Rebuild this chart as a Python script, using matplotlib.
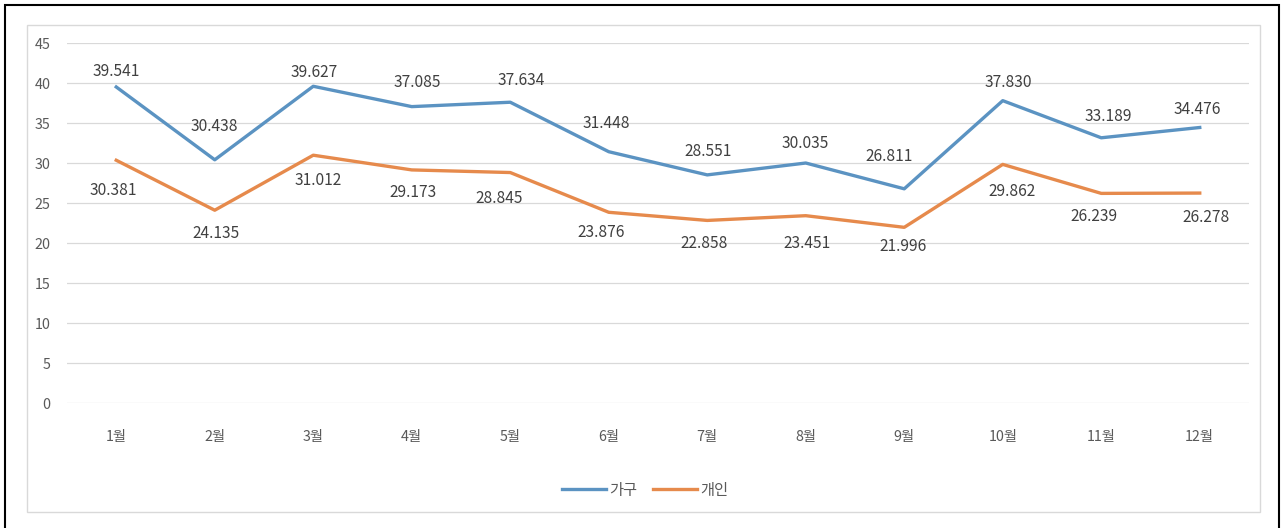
import matplotlib
matplotlib.use("Agg")
import matplotlib.pyplot as plt
from matplotlib.patches import Rectangle

plt.rcParams['font.family'] = ['Noto Sans CJK KR', 'DejaVu Sans']

months = ['1월', '2월', '3월', '4월', '5월', '6월', '7월', '8월', '9월', '10월', '11월', '12월']
household = [39.541, 30.438, 39.627, 37.085, 37.634, 31.448, 28.551, 30.035, 26.811, 37.830, 33.189, 34.476]
individual = [30.381, 24.135, 31.012, 29.173, 28.845, 23.876, 22.858, 23.451, 21.996, 29.862, 26.239, 26.278]
series_names = ['가구', '개인']
yticks = [0, 5, 10, 15, 20, 25, 30, 35, 40, 45]

# label placement offsets in pixels (style only)
hh_offsets = [(0, 15), (0, 33), (1, 14), (6, 24), (11, 22), (-2, 28),
              (1, 23), (0, 20), (-15, 32), (6, 18), (7, 21), (-2, 18)]
ind_offsets = [(-3, -30), (1, -23), (5, -25), (1, -23), (-11, -26), (-8, -20),
               (-3, -23), (1, -28), (-1, -19), (9, -27), (-7, -23), (6, -24)]

W, H = 1283, 528
fig = plt.figure(figsize=(W / 100, H / 100), dpi=100)

# outer black frame and inner gray chart frame
fig.patches.append(Rectangle((5 / W, -0.05), (1279 - 5) / W, (H - 5) / H + 0.05,
                             transform=fig.transFigure, fill=False, edgecolor='black', lw=1.5))
fig.patches.append(Rectangle((27 / W, (H - 512) / H), (1260 - 27) / W, (512 - 25) / H,
                             transform=fig.transFigure, fill=False, edgecolor='#d9d9d9', lw=1.0))

ax = fig.add_axes([67 / W, (H - 403.3) / H, (1249 - 67) / W, (403.3 - 43.3) / H])
x = list(range(len(months)))
blue = '#5B93C2'
orange = '#E68A4C'
ax.plot(x, household, color=blue, lw=2.4, label=series_names[0], solid_joinstyle='round')
ax.plot(x, individual, color=orange, lw=2.4, label=series_names[1], solid_joinstyle='round')

for xi, v, (dx, dy) in zip(x, household, hh_offsets):
    ax.annotate(f'{v:.3f}', (xi, v), xytext=(dx, dy), textcoords='offset pixels',
                ha='center', va='center', fontsize=11.2, color='#404040')
for xi, v, (dx, dy) in zip(x, individual, ind_offsets):
    ax.annotate(f'{v:.3f}', (xi, v), xytext=(dx, dy), textcoords='offset pixels',
                ha='center', va='center', fontsize=11.2, color='#404040')

ax.set_xlim(-0.5, len(months) - 0.5)
ax.set_ylim(0, 45)
ax.set_yticks(yticks)
ax.set_xticks(x)
ax.set_xticklabels(months)
ax.grid(axis='y', color='#d9d9d9', lw=0.9)
ax.set_axisbelow(True)
for s in ax.spines.values():
    s.set_visible(False)
ax.tick_params(axis='both', length=0, colors='#595959', labelsize=10.3)
ax.tick_params(axis='y', pad=12)
ax.tick_params(axis='x', pad=19)

fig.legend(loc='center', bbox_to_anchor=(645 / W, 1 - 490 / H), ncol=2, frameon=False,
           fontsize=11, handlelength=2.9, columnspacing=1.0, handletextpad=0.2,
           labelcolor='#595959')

fig.savefig('out.png', dpi=100)
